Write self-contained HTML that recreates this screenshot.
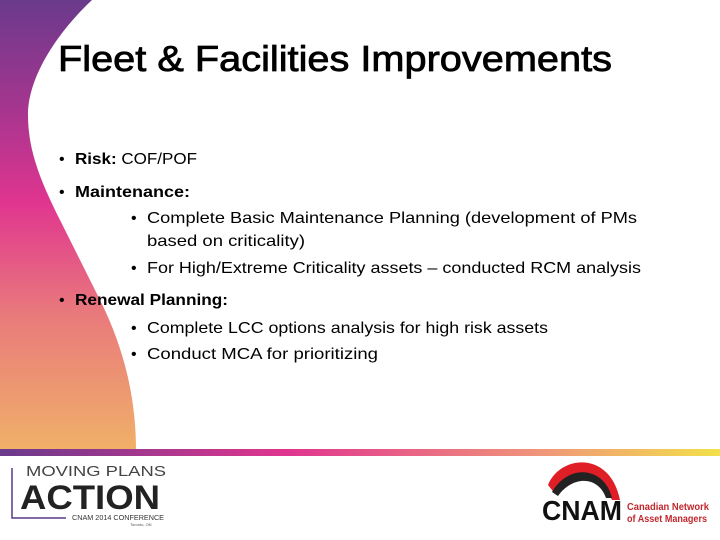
<!DOCTYPE html>
<html><head><meta charset="utf-8"><style>
html,body{margin:0;padding:0;background:#fff}
svg{display:block}
text{font-family:"Liberation Sans",sans-serif}
</style></head><body>
<svg width="720" height="540" viewBox="0 0 720 540">
<defs>
<linearGradient id="vg" x1="0" y1="0" x2="0" y2="1">
<stop offset="0" stop-color="#6a3a8c"/><stop offset="0.25" stop-color="#a8358f"/><stop offset="0.45" stop-color="#e0358f"/><stop offset="0.7" stop-color="#e97a7c"/><stop offset="1" stop-color="#f0b068"/>
</linearGradient>
<linearGradient id="hg" x1="0" y1="0" x2="1" y2="0">
<stop offset="0" stop-color="#6a3a8c"/><stop offset="0.4" stop-color="#e0358f"/><stop offset="0.75" stop-color="#f0957a"/><stop offset="1" stop-color="#f2e04a"/>
</linearGradient>
</defs>
<path d="M0,0 L92,0 C60,30 28,75 28,115 C28,150 40,180 60,220 L100,300 C125,350 136,400 136,450 L0,450 Z" fill="url(#vg)"/>
<rect x="0" y="449" width="720" height="7" fill="url(#hg)"/>
<text x="58" y="71" font-size="36" textLength="554" lengthAdjust="spacingAndGlyphs" fill="#000" stroke="#000" stroke-width="0.8">Fleet &amp; Facilities Improvements</text>
<g font-size="16" fill="#000">
<text x="59" y="164">•</text><text x="75" y="164" textLength="122" lengthAdjust="spacingAndGlyphs"><tspan font-weight="bold">Risk:</tspan>  COF/POF</text>
<text x="59" y="197">•</text><text x="75" y="197" font-weight="bold" textLength="115" lengthAdjust="spacingAndGlyphs">Maintenance:</text>
<text x="131" y="223">•</text><text x="147" y="223" textLength="490" lengthAdjust="spacingAndGlyphs">Complete Basic Maintenance Planning (development of PMs</text>
<text x="147" y="246" textLength="158" lengthAdjust="spacingAndGlyphs">based on criticality)</text>
<text x="131" y="273">•</text><text x="147" y="273" textLength="494" lengthAdjust="spacingAndGlyphs">For High/Extreme Criticality assets – conducted RCM analysis</text>
<text x="59" y="305">•</text><text x="75" y="305" font-weight="bold" textLength="153" lengthAdjust="spacingAndGlyphs">Renewal Planning:</text>
<text x="131" y="333">•</text><text x="147" y="333" textLength="401" lengthAdjust="spacingAndGlyphs">Complete LCC options analysis for high risk assets</text>
<text x="131" y="359">•</text><text x="147" y="359" textLength="231" lengthAdjust="spacingAndGlyphs">Conduct MCA for prioritizing</text>
</g>
<g>
<path d="M12,468 L12,518 L66,518" stroke="#5a3a8c" stroke-width="1.5" fill="none"/>
<text x="26" y="476" font-size="15" fill="#444" textLength="140" lengthAdjust="spacingAndGlyphs">MOVING PLANS</text>
<text x="20" y="509" font-size="34" font-weight="bold" fill="#222" textLength="140" lengthAdjust="spacingAndGlyphs">ACTION</text>
<text x="72" y="520" font-size="7" fill="#333" textLength="92" lengthAdjust="spacingAndGlyphs">CNAM 2014 CONFERENCE</text>
<text x="130" y="526" font-size="4" fill="#555">Toronto, ON</text>
</g>
<g>
<path d="M548,485 C560,455 610,450 620,500 L612,500 C600,470 565,472 556,495 Z" fill="#e01e26"/>
<path d="M552,492 C570,462 605,468 612,498 L606,498 C598,475 572,476 558,496 Z" fill="#222"/>
<text x="542" y="520" font-size="28" font-weight="bold" fill="#111" textLength="80" lengthAdjust="spacingAndGlyphs">CNAM</text>
<text x="627" y="510" font-size="10" font-weight="bold" fill="#c0282e" textLength="82" lengthAdjust="spacingAndGlyphs">Canadian Network</text>
<text x="627" y="522" font-size="10" font-weight="bold" fill="#c0282e" textLength="80" lengthAdjust="spacingAndGlyphs">of Asset Managers</text>
</g>
</svg>
</body></html>
